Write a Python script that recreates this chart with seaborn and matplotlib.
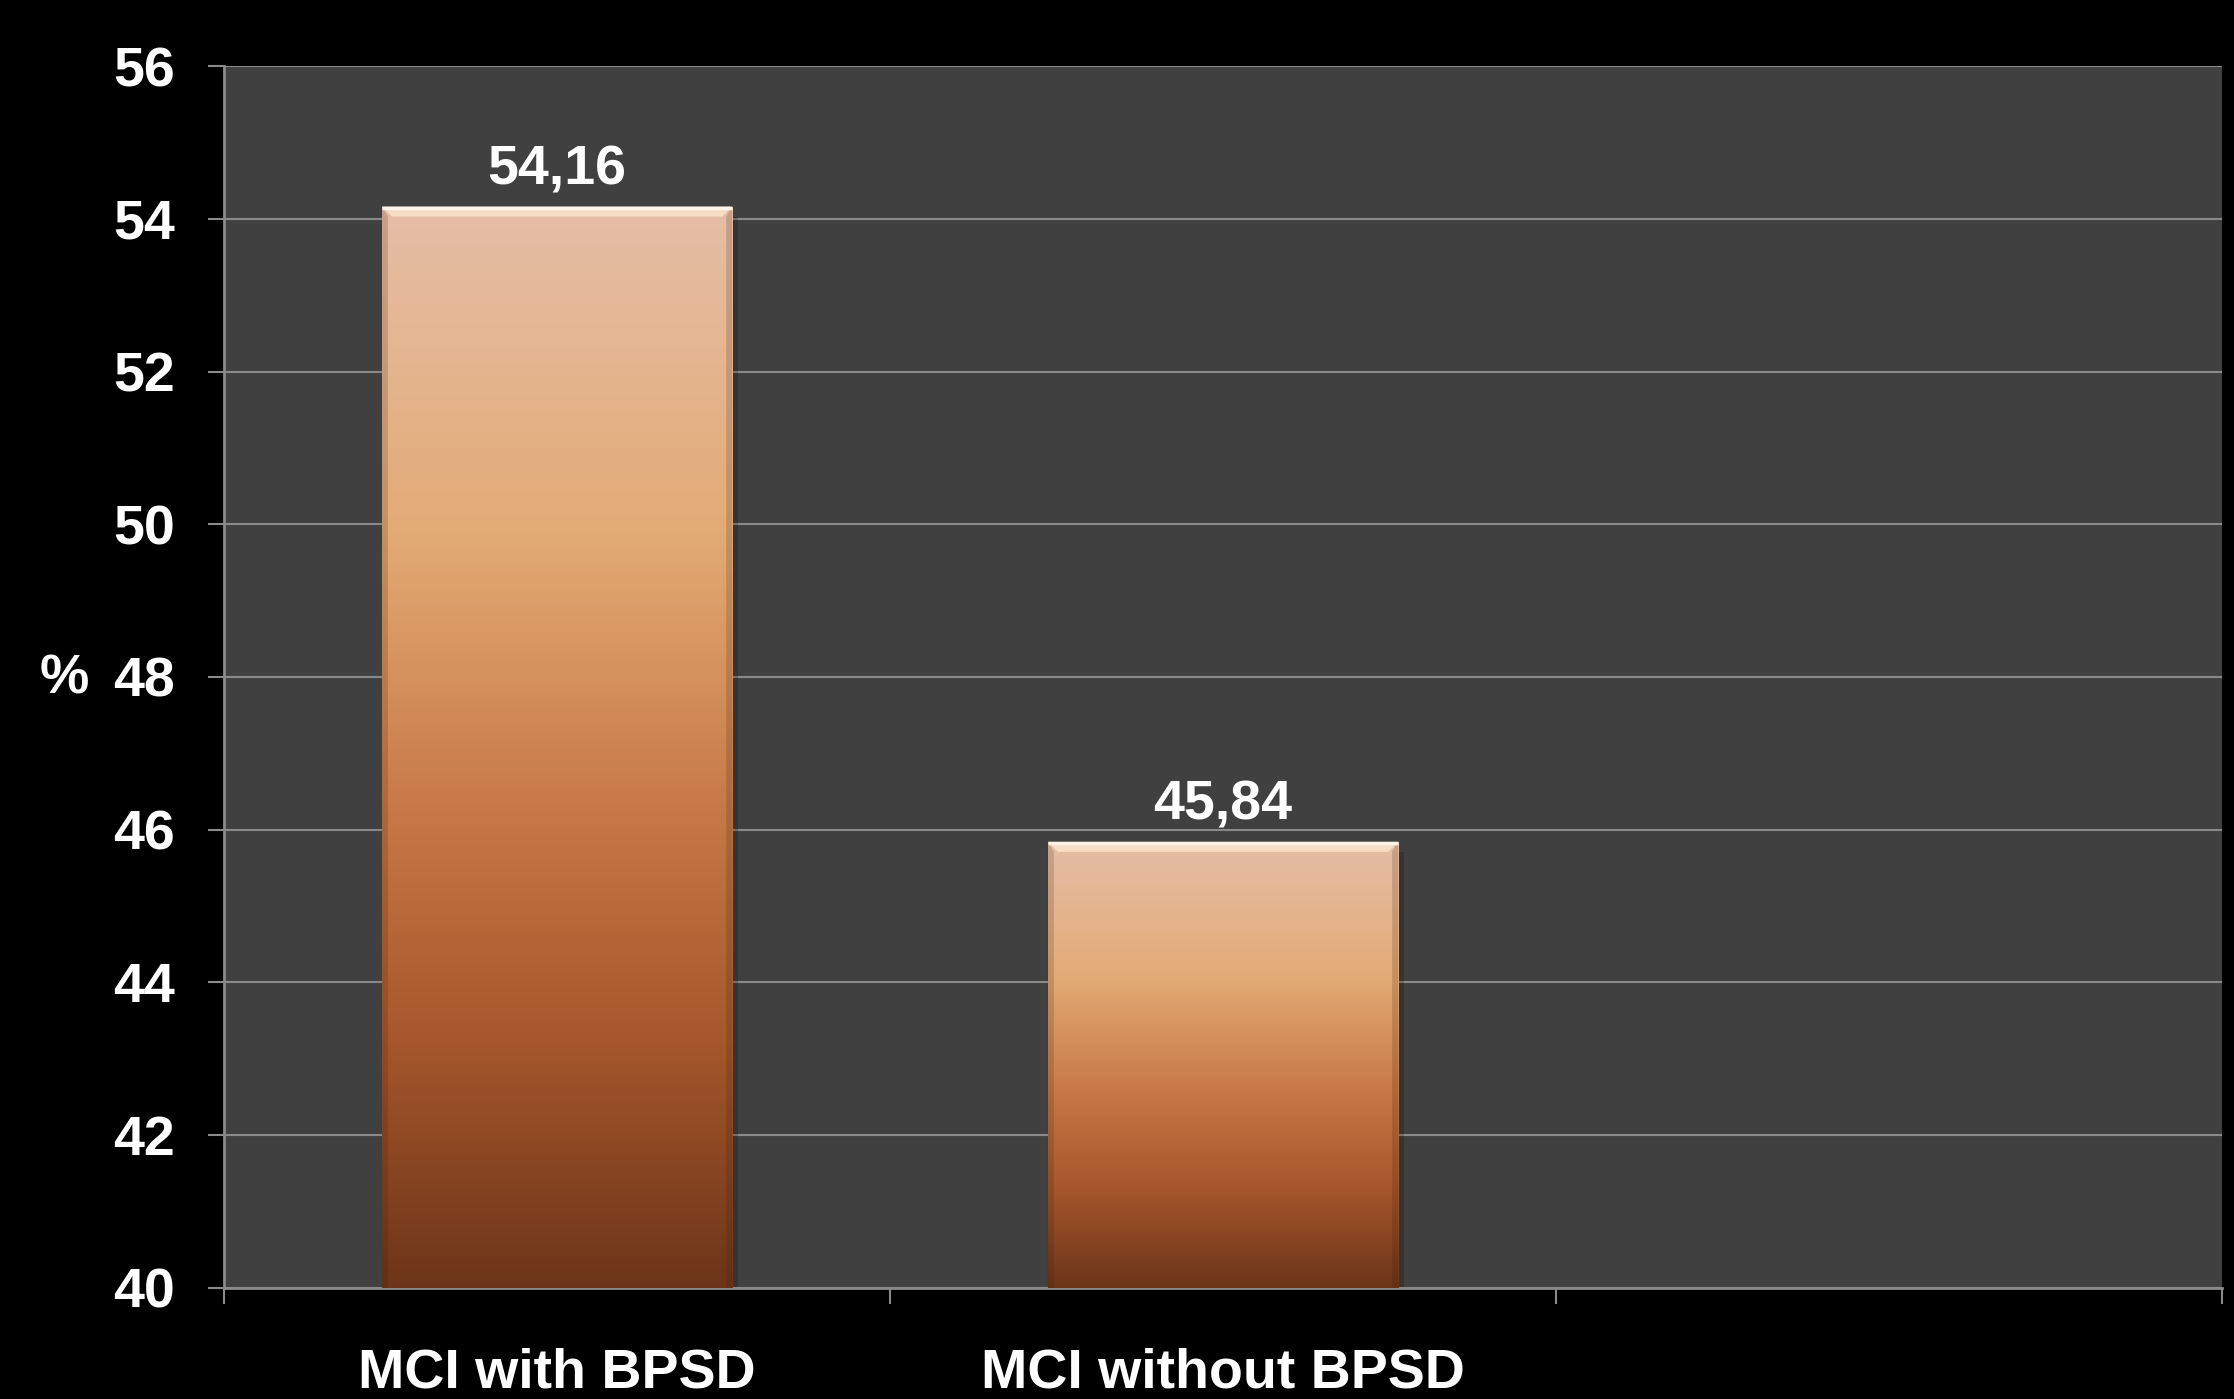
import numpy as np
import matplotlib
matplotlib.use("Agg")
import matplotlib.pyplot as plt
import seaborn as sns
import pandas as pd
from matplotlib.colors import LinearSegmentedColormap
from matplotlib.patches import Polygon

# Data
categories = ["MCI with BPSD", "MCI without BPSD"]
values = [54.16, 45.84]
value_labels = ["54,16", "45,84"]
y_ticks = [40, 42, 44, 46, 48, 50, 52, 54, 56]
y_axis_label = "%"

sns.set_theme(style="dark")
plt.rcParams['font.family'] = ['Liberation Sans', 'DejaVu Sans']

GRID = "#8a8a8a"
PANEL = "#404040"

fig = plt.figure(figsize=(22.34, 13.99), dpi=100, facecolor="black")
ax = fig.add_axes([0.1003, 0.0794, 0.8943, 0.8734])
ax.set_facecolor(PANEL)

df = pd.DataFrame({"group": categories, "pct": values})
sns.barplot(data=df, x="group", y="pct", order=categories, width=0.526,
            color="#d08a55", saturation=1, ax=ax, zorder=3)

ymin, ymax = y_ticks[0], y_ticks[-1]
ax.set_ylim(ymin, ymax)
ax.set_xlim(-0.5, 2.5)

# Vertical gradient: peach at top to dark brown at the base
grad = LinearSegmentedColormap.from_list("copper_bar", [
    (0.00, (229/255, 190/255, 166/255)),
    (0.30, (227/255, 171/255, 118/255)),
    (0.55, (200/255, 122/255, 72/255)),
    (0.78, (165/255, 86/255, 43/255)),
    (1.00, (108/255, 53/255, 25/255)),
])
g = np.linspace(0, 1, 256).reshape(-1, 1)

# pixel scale for bevel sizes
fig.canvas.draw()
bbox = ax.get_window_extent()
dy_per_px = (ymax - ymin) / bbox.height
dx_per_px = 3.0 / bbox.width
bevel_h = 10 * dy_per_px
bevel_w = 10 * dx_per_px

for patch in list(ax.patches):
    x0 = patch.get_x()
    w = patch.get_width()
    top = patch.get_y() + patch.get_height()
    x1 = x0 + w
    patch.set_facecolor("none")
    patch.set_edgecolor("none")
    im = ax.imshow(g, cmap=grad, aspect="auto", extent=(x0, x1, ymin, top),
                   origin="upper", zorder=3, interpolation="bicubic")
    im.set_clip_path(patch)
    # top bevel highlight
    ax.add_patch(Polygon([(x0, top), (x1, top), (x1 - bevel_w, top - bevel_h),
                          (x0 + bevel_w, top - bevel_h)], closed=True,
                         facecolor="#f7dcc6", edgecolor="none", zorder=4))
    ax.plot([x0, x1], [top - 1.5 * dy_per_px] * 2, color="#fff4ea", lw=2.5,
            zorder=5, solid_capstyle="butt")
    # side shading
    for xe, sgn in ((x0, 1), (x1, -1)):
        ax.add_patch(Polygon([(xe, top), (xe + sgn * bevel_w * 0.6, top - bevel_h),
                              (xe + sgn * bevel_w * 0.6, ymin), (xe, ymin)],
                             closed=True, facecolor="#3a1a08", alpha=0.18,
                             edgecolor="none", zorder=4))
    # soft drop shadow to the right
    ax.add_patch(Polygon([(x1, top - bevel_h), (x1 + 6 * dx_per_px, top - bevel_h),
                          (x1 + 6 * dx_per_px, ymin), (x1, ymin)],
                         closed=True, facecolor="black", alpha=0.18,
                         edgecolor="none", zorder=2))

# Value labels above bars
for i, (v, lab) in enumerate(zip(values, value_labels)):
    ax.annotate(lab, (i, v), xytext=(0, 16), textcoords="offset points",
                ha="center", va="baseline", color="white", fontsize=40,
                fontweight="bold", zorder=6)

# Axes styling
ax.set_yticks(y_ticks)
ax.set_yticklabels([str(t) for t in y_ticks])
ax.yaxis.grid(True, color=GRID, lw=1.5, zorder=1)
ax.xaxis.grid(False)
ax.set_axisbelow(True)
ax.tick_params(axis="y", which="major", direction="out", length=11.5, width=1.5,
               color=GRID, labelcolor="white", labelsize=40, pad=24, left=True)
for t in ax.get_yticklabels():
    t.set_fontweight("bold")

ax.set_xticks([0, 1])
ax.set_xticklabels(categories)
ax.set_xticks([-0.5, 0.5, 1.5, 2.5], minor=True)
ax.tick_params(axis="x", which="major", length=0, labelcolor="white",
               labelsize=40, pad=43)
ax.tick_params(axis="x", which="minor", direction="out", length=11.5, width=1.5,
               color=GRID, bottom=True)
for t in ax.get_xticklabels():
    t.set_fontweight("bold")

ax.set_xlabel("")
ax.set_ylabel("")
for side in ("top", "right"):
    ax.spines[side].set_visible(False)
for side in ("left", "bottom"):
    ax.spines[side].set_visible(True)
    ax.spines[side].set_color(GRID)
    ax.spines[side].set_linewidth(2)

fig.text(0.0286, 0.514, y_axis_label, color="white", fontsize=40,
         fontweight="bold", ha="center", va="center")

fig.savefig("out.png", dpi=100, facecolor="black")
